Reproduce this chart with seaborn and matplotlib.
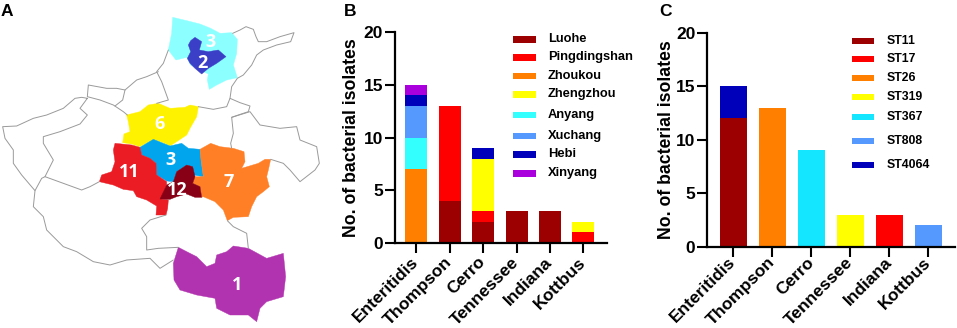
import numpy as np
import matplotlib
matplotlib.use('Agg')
import matplotlib.pyplot as plt
from matplotlib.patches import Rectangle
import seaborn as sns

# --- data ---
strains = ['Enteritidis', 'Thompson', 'Cerro', 'Tennessee', 'Indiana', 'Kottbus']
y_label = 'No. of bacterial isolates'

cities = ['Luohe', 'Pingdingshan', 'Zhoukou', 'Zhengzhou', 'Anyang', 'Xuchang', 'Hebi', 'Xinyang']
city_colors = ['#9C0000', '#FF0000', '#FF8000', '#FFFF00', '#33FFFF', '#5599FF', '#0000BB', '#AA00DD']
luohe = [0, 4, 2, 3, 3, 0]
pingdingshan = [0, 9, 1, 0, 0, 1]
zhoukou = [7, 0, 0, 0, 0, 0]
zhengzhou = [0, 0, 5, 0, 0, 1]
anyang = [3, 0, 0, 0, 0, 0]
xuchang = [3, 0, 0, 0, 0, 0]
hebi = [1, 0, 1, 0, 0, 0]
xinyang = [1, 0, 0, 0, 0, 0]
city_values = [luohe, pingdingshan, zhoukou, zhengzhou, anyang, xuchang, hebi, xinyang]

sequence_types = ['ST11', 'ST17', 'ST26', 'ST319', 'ST367', 'ST808', 'ST4064']
st_colors = ['#9C0000', '#FF0000', '#FF8000', '#FFFF00', '#14E6FF', '#5599FF', '#0000BB']
st11 = [12, 0, 0, 0, 0, 0]
st17 = [0, 0, 0, 0, 3, 0]
st26 = [0, 13, 0, 0, 0, 0]
st319 = [0, 0, 0, 3, 0, 0]
st367 = [0, 0, 9, 0, 0, 0]
st808 = [0, 0, 0, 0, 0, 2]
st4064 = [3, 0, 0, 0, 0, 0]
st_values = [st11, st17, st26, st319, st367, st808, st4064]

# map of panel A (3x pixel grid)
region_anyang = [(518,52),(560,62),(600,72),(632,85),(660,100),(695,98),(712,118),(710,160),(700,195),(712,233),(680,240),(650,255),(628,268),(622,240),(625,222),(600,210),(572,195),(560,172),(528,180),(505,150),(515,100)]
region_hebi = [(585,112),(605,125),(598,150),(625,155),(655,150),(678,170),(650,190),(625,205),(605,222),(585,205),(570,190),(562,175),(572,155),(565,135),(572,122)]
region_zhengzhou = [(380,345),(420,335),(445,315),(475,310),(510,325),(555,322),(570,315),(595,320),(590,350),(570,385),(560,405),(530,425),(510,438),(490,428),(460,418),(420,440),(395,432),(368,428),(372,402),(390,395),(385,365)]
region_xuchang = [(420,442),(460,418),(490,430),(510,438),(545,430),(565,445),(600,448),(603,480),(610,530),(580,525),(578,500),(560,495),(530,515),(520,545),(500,543),(470,525),(468,490),(450,475),(425,465)]
region_pingdingshan = [(345,430),(395,435),(420,442),(425,465),(450,475),(468,490),(470,525),(500,545),(500,555),(482,597),(505,600),(503,625),(498,645),(468,645),(470,618),(440,600),(410,590),(400,572),(370,568),(340,555),(298,545),(305,525),(335,515),(345,485),(340,450)]
region_luohe = [(530,515),(560,495),(578,500),(585,530),(578,550),(600,560),(605,592),(585,592),(560,582),(530,590),(510,598),(480,597),(500,555),(520,545)]
region_zhoukou = [(600,448),(632,430),(660,440),(700,445),(732,455),(735,485),(725,505),(775,490),(795,478),(812,478),(805,510),(800,530),(808,560),(790,575),(770,590),(755,620),(745,650),(700,652),(682,662),(670,630),(645,605),(610,590),(605,592),(600,560),(578,550),(585,530),(610,530),(603,480)]
region_xinyang = [(535,742),(570,760),(590,770),(620,800),(645,790),(650,765),(680,755),(700,738),(745,745),(800,775),(850,760),(857,830),(850,890),(800,905),(780,925),(770,965),(745,945),(690,945),(650,925),(645,895),(590,885),(540,870),(522,840),(520,790)]
regions = [region_anyang, region_hebi, region_zhengzhou, region_xuchang, region_pingdingshan, region_zhoukou, region_luohe, region_xinyang]
region_colors = ['#8CFFFF', '#3B3FC8', '#FFF200', '#00A5EE', '#EC1C24', '#FF7F27', '#880015', '#B233B0']

border_lines = [
    [(698,100),(720,90),(738,80),(760,88),(768,110),(775,125),(800,125),(840,110),(882,98),(872,125),(830,135),(790,150),(770,165),(755,195),(730,225),(712,235),(695,260),(690,295),(720,308),(750,318),(745,335),(715,345),(695,352),(700,400),(692,430),(695,445)],
    [(505,150),(490,190),(470,215),(485,245),(505,300),(470,310)],
    [(475,215),(440,230),(410,240),(375,270),(350,265),(320,265),(265,255),(262,290),(300,300),(340,315),(370,335),(382,345)],
    [(375,270),(368,300),(345,318)],
    [(262,295),(245,292),(225,295),(190,325),(140,345),(100,355),(50,378),(8,380),(15,415),(40,450),(40,490),(65,525),(105,572),(125,535),(135,530),(160,480),(130,430),(130,410),(180,395),(240,372),(262,345),(240,325),(262,295)],
    [(135,530),(190,550),(245,570),(270,560),(298,545)],
    [(105,572),(100,620),(130,650),(140,690),(190,740),(230,755),(280,785),(330,795),(380,780),(450,775),(480,805),(520,780)],
    [(498,645),(450,660),(425,685),(440,710),(440,750),(475,745),(535,742)],
    [(682,662),(700,680),(740,700),(745,745)],
    [(695,352),(750,335),(780,375),(840,385),(890,380),(900,420),(950,440),(958,490),(945,510),(900,545),(870,510),(850,490),(812,478)],
    [(595,320),(640,328),(680,320),(690,295)],
]
map_counts = ['3', '2', '6', '3', '11', '12', '7', '1']
map_count_xy = [(632,125), (607,188), (478,373), (510,480), (387,515), (533,570), (687,545), (710,855)]

# legend key rows, pixel y of each entry
city_key_y = [39.3, 57.3, 76, 94.3, 114.7, 135.7, 154.3, 173.3]
st_key_y = [40.7, 59, 77.7, 96.7, 117, 141, 165]

# --- style ---
W, H = 957, 328
sns.set_theme(style='ticks')
plt.rcParams['font.family'] = ['Liberation Sans', 'DejaVu Sans']
plt.rcParams['font.weight'] = 'bold'
plt.rcParams['axes.labelweight'] = 'bold'

fig = plt.figure(figsize=(W / 100, H / 100), dpi=100)


def axes_px(left, top, right, bottom):
    return fig.add_axes([left / W, 1 - bottom / H, (right - left) / W, (bottom - top) / H])


def stacked_bars(ax, values, colors, bar_width, xlim, label_pad, x_pad):
    base = np.zeros(len(strains))
    for vals, col in zip(values, colors):
        sns.barplot(x=strains, y=vals, bottom=base, color=col, saturation=1,
                    width=bar_width, linewidth=0, ax=ax)
        base = base + np.array(vals)
    ax.set_xlim(*xlim)
    ax.set_ylim(0, 20)
    ax.set_yticks([0, 5, 10, 15, 20])
    ax.set_ylabel(y_label, fontsize=12.7, color='black', labelpad=label_pad)
    ax.tick_params(axis='both', length=7, width=1.5, color='black', labelcolor='black')
    ax.tick_params(axis='y', labelsize=12.5, pad=1.5)
    ax.tick_params(axis='x', labelsize=12.5, pad=x_pad)
    plt.setp(ax.get_xticklabels(), rotation=45, ha='right', va='center', rotation_mode='anchor')
    ax.patch.set_alpha(0)
    for side in ['left', 'bottom']:
        ax.spines[side].set_linewidth(1.6)
        ax.spines[side].set_color('black')
    sns.despine(ax=ax)


# --- panel A ---
ax_map = axes_px(0, 0, 320, 328)
ax_map.set_xlim(0, 960)
ax_map.set_ylim(984, 0)
ax_map.axis('off')
for line in border_lines:
    pts = np.array(line)
    ax_map.plot(pts[:, 0], pts[:, 1], color='#9A9A9A', lw=0.7)
for poly, col in zip(regions, region_colors):
    pts = np.array(poly)
    ax_map.fill(pts[:, 0], pts[:, 1], color=col, lw=0.3)
for txt, (xp, yp) in zip(map_counts, map_count_xy):
    ax_map.text(xp, yp, txt, color='white', fontsize=13, ha='center', va='center',
                family='Open Sans', weight='bold')

# --- panel B ---
ax_b = axes_px(395, 32, 607, 243)
stacked_bars(ax_b, city_values, city_colors, 0.66, (-0.64, 5.71), 3, 5)

# --- panel C ---
ax_c = axes_px(707.3, 32.7, 955, 246.7)
stacked_bars(ax_c, st_values, st_colors, 0.68, (-0.667, 5.68), 1, 2.5)

# --- legends and panel letters, drawn in pixel space ---
ax_top = fig.add_axes([0, 0, 1, 1])
ax_top.set_xlim(0, W)
ax_top.set_ylim(H, 0)
ax_top.axis('off')


def key_rows(names, colors, rows, x0, x1, x_text, size):
    for name, col, yp in zip(names, colors, rows):
        ax_top.add_patch(Rectangle((x0, yp - 3.2), x1 - x0, 6.4, color=col, lw=0))
        ax_top.text(x_text, yp, name, fontsize=size, va='center', ha='left', color='black')


key_rows(cities, city_colors, city_key_y, 513, 535.7, 548, 9.3)
key_rows(sequence_types, st_colors, st_key_y, 852.3, 874.3, 886.7, 8.8)

for letter, xp in zip(['A', 'B', 'C'], [1, 344, 659]):
    ax_top.text(xp, 11, letter, fontsize=12.5, va='center', ha='left', color='black')

fig.savefig('out.png', dpi=100)
